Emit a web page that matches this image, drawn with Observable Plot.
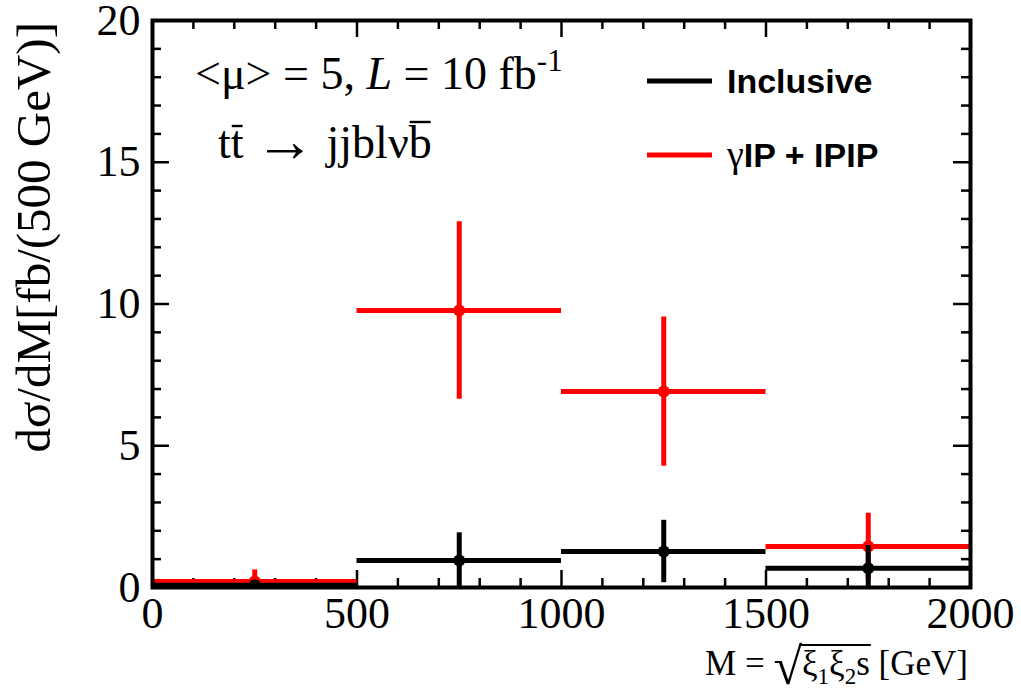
<!DOCTYPE html>
<html><head><meta charset="utf-8">
<script src="https://cdn.jsdelivr.net/npm/d3@7"></script>
<script src="https://cdn.jsdelivr.net/npm/@observablehq/plot@0.6"></script>
<style>body{margin:0;background:#fff} svg{display:block}</style>
</head><body><div id="chart"></div>
<script>
// ---- data ----
const binLow = [0, 500, 1000, 1500];
const binHigh = [500, 1000, 1500, 2000];
const binCenter = [250, 750, 1250, 1750];
const inclusive = [0.08, 0.95, 1.27, 0.68];
const inclusiveErr = [0.06, 0.98, 1.10, 0.80];
const diffractive = [0.21, 9.77, 6.91, 1.45];
const diffractiveErr = [0.41, 3.13, 2.63, 1.17];
const xTicksMajor = [0, 500, 1000, 1500, 2000];
const xTickLabels = ["0", "500", "1000", "1500", "2000"];
const yTicksMajor = [0, 5, 10, 15, 20];
const yTickLabels = ["0", "5", "10", "15", "20"];
const seriesNames = ["Inclusive", "γIP + IPIP"];
const seriesColors = ["#000000", "#ff0000"];

const xMinor = d3.range(0, 2001, 100).filter(d => !xTicksMajor.includes(d));
const yMinor = d3.range(0, 21, 1).filter(d => !yTicksMajor.includes(d));

function rows(vals, errs, color) {
  return vals.map((v, i) => ({lo: binLow[i], hi: binHigh[i], c: binCenter[i], v, e: errs[i], color}));
}
const incRows = rows(inclusive, inclusiveErr, seriesColors[0]);
const difRows = rows(diffractive, diffractiveErr, seriesColors[1]);

const W = 1021, H = 693, mL = 152, mR = 51, mT = 20, mB = 106;
const innerW = W - mL - mR, innerH = H - mT - mB;
const majorLen = 17, minorLen = 9;
const serif = "Liberation Serif";
const sans = "Liberation Sans";

function seriesMarks(data, color) {
  return [
    Plot.ruleY(data, {x1: "lo", x2: "hi", y: "v", stroke: color, strokeWidth: 5, clip: true}),
    Plot.ruleX(data, {x: "c", y1: d => d.v - d.e, y2: d => d.v + d.e, stroke: color, strokeWidth: 5, clip: true}),
    Plot.dot(data, {x: "c", y: "v", r: 6, fill: color, stroke: null, clip: true})
  ];
}

const chart = Plot.plot({
  width: W, height: H,
  marginLeft: mL, marginRight: mR, marginTop: mT, marginBottom: mB,
  style: {background: "#fff", color: "#000", overflow: "visible"},
  x: {domain: [0, 2000]},
  y: {domain: [0, 20]},
  marks: [
    Plot.axisX(xTicksMajor, {tickSize: 0, tickPadding: 9, fontSize: 44, fontFamily: serif, label: null, tickFormat: d => xTickLabels[xTicksMajor.indexOf(d)]}),
    Plot.axisY(yTicksMajor, {tickSize: 0, tickPadding: 12, fontSize: 44, fontFamily: serif, label: null, tickFormat: d => yTickLabels[yTicksMajor.indexOf(d)]}),
    // inward ticks on all four sides
    Plot.tickX(xTicksMajor, {x: d => d, insetTop: innerH - majorLen, strokeWidth: 2.5}),
    Plot.tickX(xTicksMajor, {x: d => d, insetBottom: innerH - majorLen, strokeWidth: 2.5}),
    Plot.tickX(xMinor, {x: d => d, insetTop: innerH - minorLen, strokeWidth: 2.5}),
    Plot.tickX(xMinor, {x: d => d, insetBottom: innerH - minorLen, strokeWidth: 2.5}),
    Plot.tickY(yTicksMajor, {y: d => d, insetRight: innerW - majorLen, strokeWidth: 2.5}),
    Plot.tickY(yTicksMajor, {y: d => d, insetLeft: innerW - majorLen, strokeWidth: 2.5}),
    Plot.tickY(yMinor, {y: d => d, insetRight: innerW - minorLen, strokeWidth: 2.5}),
    Plot.tickY(yMinor, {y: d => d, insetLeft: innerW - minorLen, strokeWidth: 2.5}),
    ...seriesMarks(difRows, seriesColors[1]),
    ...seriesMarks(incRows, seriesColors[0]),
    Plot.frame({stroke: "#000", strokeWidth: 4})
  ]
});
document.getElementById("chart").appendChild(chart);

const svg = d3.select(chart);

// y-axis title (rotated, aligned to top)
svg.append("text")
  .attr("transform", `translate(50,${mT + 2}) rotate(-90)`)
  .attr("text-anchor", "end").attr("font-family", serif).attr("font-size", 49)
  .attr("fill", "#000")
  .text("dσ/dM[fb/(500 GeV)]");

// x-axis title: M = sqrt(xi1 xi2 s) [GeV]
const xt = svg.append("text")
  .attr("x", 968).attr("y", 675).attr("text-anchor", "end")
  .attr("font-family", serif).attr("font-size", 35).attr("fill", "#000");
xt.append("tspan").text("M = ");
xt.append("tspan").attr("font-size", 52).attr("dy", 9).text("√");
xt.append("tspan").attr("dy", -9).text("ξ");
xt.append("tspan").attr("font-size", 23).attr("dy", 9).text("1");
xt.append("tspan").attr("dy", -9).text("ξ");
xt.append("tspan").attr("font-size", 23).attr("dy", 9).text("2");
xt.append("tspan").attr("dy", -9).text("s");
xt.append("tspan").text(" [GeV]");

// annotation 1
const a1 = svg.append("text").attr("x", 195).attr("y", 89).attr("text-anchor", "start")
  .attr("font-family", serif).attr("font-size", 46).attr("fill", "#000");
a1.append("tspan").text("<μ> = 5, ");
a1.append("tspan").attr("font-style", "italic").text("L");
a1.append("tspan").text(" = 10 fb");
a1.append("tspan").attr("font-size", 31).attr("dy", -18).text("-1");

// annotation 2
const a2 = svg.append("text").attr("x", 218).attr("y", 158).attr("text-anchor", "start")
  .attr("font-family", serif).attr("font-size", 46).attr("fill", "#000");
a2.append("tspan").text("tt ");
a2.append("tspan").attr("font-size", 60).attr("dy", 3).text("→");
a2.append("tspan").attr("dy", -3).text(" jjblνb");

// overbars drawn from measured glyph extents
function bar(textSel, idx, y) {
  const e = textSel.node().getExtentOfChar(idx);
  svg.append("line").attr("x1", e.x + 1).attr("x2", e.x + e.width - 1)
    .attr("y1", y).attr("y2", y).attr("stroke", "#000").attr("stroke-width", 2.4);
}
bar(a2, 1, 126);
bar(a2, 10, 122);
// sqrt overline (chars: "M = " 0..3, √=4, ξ=5, 1=6, ξ=7, 2=8, s=9)
{
  const n = xt.node();
  const r = n.getExtentOfChar(4), s = n.getExtentOfChar(9);
  svg.append("line").attr("x1", r.x + r.width - 3).attr("x2", s.x + s.width + 1)
    .attr("y1", 645).attr("y2", 645).attr("stroke", "#000").attr("stroke-width", 2);
}

// legend
const leg = [{y: 81, name: seriesNames[0], color: seriesColors[0]}, {y: 155, name: seriesNames[1], color: seriesColors[1]}];
leg.forEach(l => {
  svg.append("line").attr("x1", 647).attr("x2", 712).attr("y1", l.y).attr("y2", l.y)
    .attr("stroke", l.color).attr("stroke-width", 5);
  const t = svg.append("text").attr("x", 727).attr("y", l.y + 12).attr("text-anchor", "start")
    .attr("font-family", sans).attr("font-weight", "bold").attr("font-size", 34)
    .attr("fill", "#000");
  if (l.name.startsWith("γ")) {
    t.append("tspan").attr("font-family", serif).attr("font-weight", "normal").attr("font-size", 38).text("γ");
    t.append("tspan").text(l.name.slice(1));
  } else {
    t.text(l.name);
  }
});
</script>
</body></html>
